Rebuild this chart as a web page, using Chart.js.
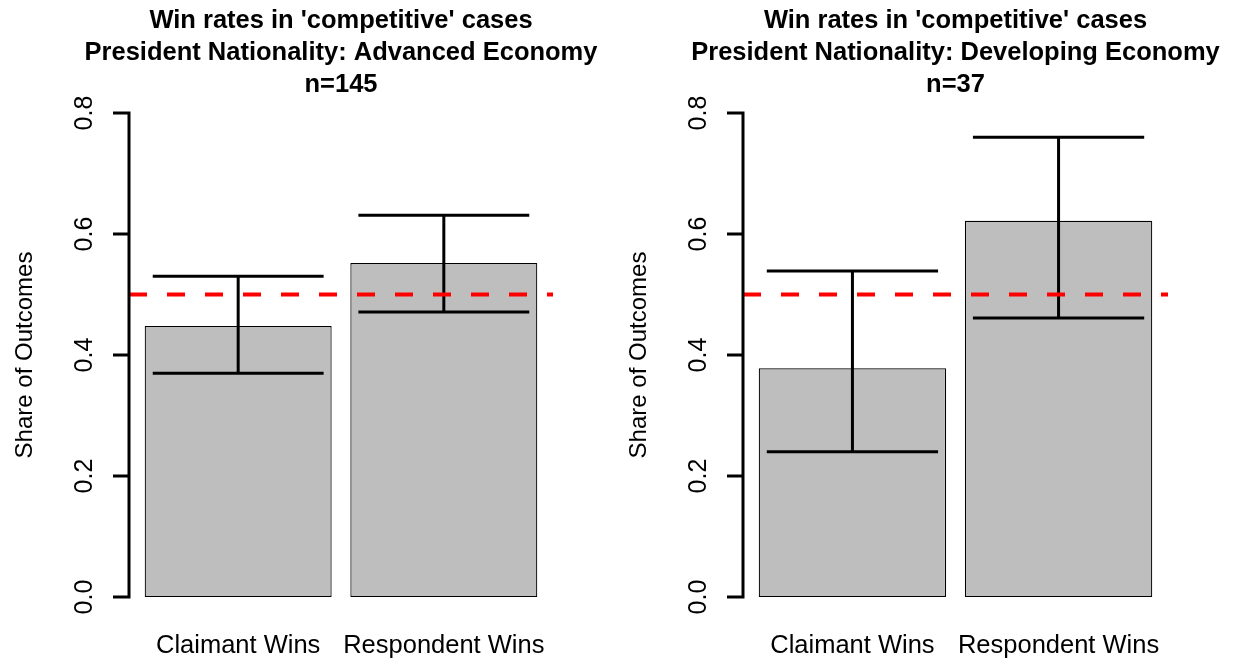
<!DOCTYPE html>
<html><head><meta charset="utf-8">
<script src="https://cdn.jsdelivr.net/npm/chart.js@4.4.0/dist/chart.umd.min.js"></script>
<style>
html,body{margin:0;padding:0;background:#fff;}
#wrap{position:relative;width:1239px;height:660px;overflow:hidden;}
#wrap canvas{position:absolute;top:0;}
</style></head><body>
<div id="wrap">
<canvas id="c1" width="620" height="660" style="left:0px"></canvas>
<canvas id="c2" width="619" height="660" style="left:620px"></canvas>
</div>
<script>
const categories = ['Claimant Wins', 'Respondent Wins'];
const barPositions = [0.6, 1.7];
const advancedShare = [0.448, 0.552];
const advancedLower = [0.370, 0.471];
const advancedUpper = [0.530, 0.631];
const developingShare = [0.378, 0.622];
const developingLower = [0.240, 0.461];
const developingUpper = [0.539, 0.760];
const yTicks = [0, 0.2, 0.4, 0.6, 0.8];
const yTickLabels = ['0.0', '0.2', '0.4', '0.6', '0.8'];
const referenceLine = 0.5;
const titleAdvanced = ["Win rates in 'competitive' cases", 'President Nationality: Advanced Economy', 'n=145'];
const titleDeveloping = ["Win rates in 'competitive' cases", 'President Nationality: Developing Economy', 'n=37'];
const yAxisTitle = 'Share of Outcomes';

const FONT = '"Liberation Sans", Arial, Helvetica, sans-serif';

const rStyle = {
  id: 'rStyle',
  afterDatasetsDraw(chart, args, o) {
    const ctx = chart.ctx;
    const xs = chart.scales.x, ys = chart.scales.y, ca = chart.chartArea;
    ctx.save();
    // error bars
    ctx.strokeStyle = '#000';
    ctx.lineWidth = 3;
    ctx.lineCap = 'butt';
    barPositions.forEach((p, i) => {
      const xc = xs.getPixelForValue(p);
      const yl = ys.getPixelForValue(o.lower[i]);
      const yu = ys.getPixelForValue(o.upper[i]);
      const xl = xs.getPixelForValue(p - o.capHalf);
      const xr = xs.getPixelForValue(p + o.capHalf);
      ctx.beginPath();
      ctx.moveTo(xc, yl); ctx.lineTo(xc, yu);
      ctx.moveTo(xl, yl); ctx.lineTo(xr, yl);
      ctx.moveTo(xl, yu); ctx.lineTo(xr, yu);
      ctx.stroke();
    });
    // reference line
    const yr = ys.getPixelForValue(referenceLine);
    ctx.strokeStyle = '#ff0000';
    ctx.lineWidth = 4;
    ctx.setLineDash([18, 20]);
    ctx.beginPath();
    ctx.moveTo(ca.left, yr); ctx.lineTo(ca.right, yr);
    ctx.stroke();
    ctx.setLineDash([]);
    // y axis
    ctx.strokeStyle = '#000';
    ctx.lineWidth = 3;
    ctx.beginPath();
    ctx.moveTo(ca.left, ys.getPixelForValue(yTicks[0]) + 1.5);
    ctx.lineTo(ca.left, ys.getPixelForValue(yTicks[yTicks.length - 1]) - 1.5);
    yTicks.forEach(t => {
      const yy = ys.getPixelForValue(t);
      ctx.moveTo(ca.left - 16, yy); ctx.lineTo(ca.left, yy);
    });
    ctx.stroke();
    ctx.fillStyle = '#000';
    ctx.font = '25px ' + FONT;
    ctx.textAlign = 'center';
    ctx.textBaseline = 'alphabetic';
    yTicks.forEach((t, i) => {
      ctx.save();
      ctx.translate(ca.left - 37, ys.getPixelForValue(t));
      ctx.rotate(-Math.PI / 2);
      ctx.fillText(yTickLabels[i], 0, 0);
      ctx.restore();
    });
    // y title
    ctx.font = '24px ' + FONT;
    ctx.save();
    ctx.translate(ca.left - 97, (ca.top + ca.bottom) / 2);
    ctx.rotate(-Math.PI / 2);
    ctx.fillText(yAxisTitle, 0, 0);
    ctx.restore();
    // x labels
    ctx.font = '25.5px ' + FONT;
    barPositions.forEach((p, i) => {
      ctx.fillText(categories[i], xs.getPixelForValue(p), ca.bottom + 56);
    });
    // title
    ctx.font = 'bold 25.5px ' + FONT;
    const cx = (ca.left + ca.right) / 2;
    o.title.forEach((line, i) => {
      ctx.fillText(line, cx, 28 + i * 32);
    });
    ctx.restore();
  }
};

function makeChart(id, share, lower, upper, title, pad) {
  return new Chart(document.getElementById(id), {
    type: 'bar',
    data: {
      datasets: [{
        data: barPositions.map((p, i) => ({ x: p, y: share[i] })),
        backgroundColor: '#bebebe',
        borderColor: '#000000',
        borderWidth: 1.2,
        borderSkipped: false,
        categoryPercentage: 1,
        barPercentage: 1 / 1.1
      }]
    },
    options: {
      responsive: false,
      animation: false,
      devicePixelRatio: 1,
      layout: { padding: pad },
      plugins: {
        legend: { display: false },
        title: { display: false },
        tooltip: { enabled: false },
        rStyle: { lower, upper, title, capHalf: 0.457 }
      },
      scales: {
        x: {
          type: 'linear', min: 0.016, max: 2.284, offset: false, display: false,
          afterBuildTicks: s => { s.ticks = barPositions.map(v => ({ value: v })); }
        },
        y: { type: 'linear', min: 0, max: 0.8, display: false }
      }
    },
    plugins: [rStyle]
  });
}

makeChart('c1', advancedShare, advancedLower, advancedUpper, titleAdvanced,
  { left: 129, right: 620 - 553, top: 113, bottom: 660 - 597 });
makeChart('c2', developingShare, developingLower, developingUpper, titleDeveloping,
  { left: 743 - 620, right: 619 - (1168 - 620), top: 113, bottom: 660 - 597 });
</script>
</body></html>
